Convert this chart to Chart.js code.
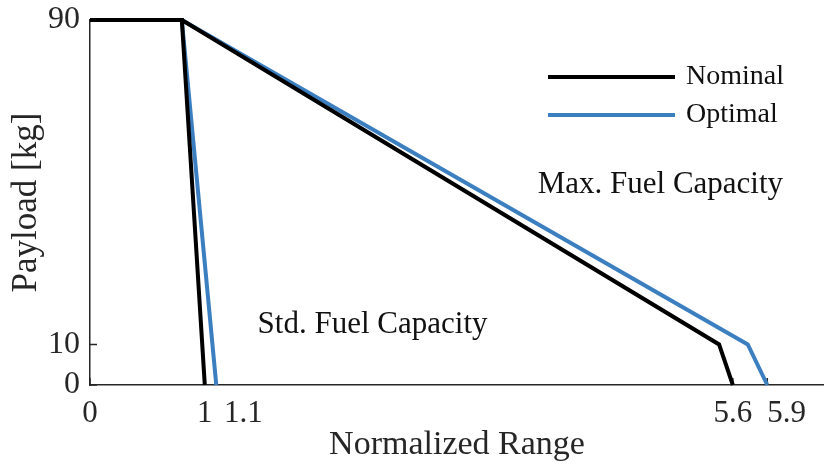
<!DOCTYPE html>
<html>
<head>
<meta charset="utf-8">
<script src="https://cdn.jsdelivr.net/npm/chart.js@4/dist/chart.umd.min.js"></script>
<style>
  html, body { margin: 0; padding: 0; background: #ffffff; }
  #wrap { width: 824px; height: 466px; }
</style>
</head>
<body>
<div id="wrap"><canvas id="c" width="824" height="466"></canvas></div>
<script>
// Payload-range curves (range normalized, payload in kg)
const nominalStd = [[0, 90], [0.8, 90], [1.0, 0]];
const nominalMax = [[0.8, 90], [5.48, 10], [5.6, 0]];
const optimalStd = [[0, 90], [0.8, 90], [1.1, 0]];
const optimalMax = [[0.8, 90], [5.73, 10], [5.9, 0]];

const seriesNames = ['Nominal', 'Optimal'];
const xTickValues = [0, 1, 1.1, 5.6, 5.9];
// leading spaces nudge the crowded labels to the right of their ticks
const xTickLabels = ['0', '1', '       1.1', '5.6', '     5.9'];
const yTickValues = [0, 10, 90];
const yTickLabels = ['0', '10', '90'];
const regionLabels = ['Max. Fuel Capacity', 'Std. Fuel Capacity'];

const SERIF = '"Liberation Serif", "Times New Roman", serif';
const INK = '#262626';
const BLACK = '#000000';
const BLUE = '#3b7fc0';

const toXY = arr => arr.map(p => ({ x: p[0], y: p[1] }));

function lineSet(label, data, color) {
  return {
    label: label,
    data: toXY(data),
    borderColor: color,
    backgroundColor: color,
    borderWidth: 4,
    pointRadius: 0,
    pointHoverRadius: 0,
    showLine: true,
    tension: 0,
    borderJoinStyle: 'miter',
    clip: false
  };
}

// Inward-pointing tick marks on both axes
const innerTicks = {
  id: 'innerTicks',
  beforeDatasetsDraw(chart) {
    const { ctx, chartArea, scales } = chart;
    ctx.save();
    ctx.strokeStyle = INK;
    ctx.lineWidth = 1.5;
    ctx.beginPath();
    xTickValues.forEach(v => {
      const px = scales.x.getPixelForValue(v);
      ctx.moveTo(px, chartArea.bottom);
      ctx.lineTo(px, chartArea.bottom - 7);
    });
    yTickValues.forEach(v => {
      const py = scales.y.getPixelForValue(v);
      ctx.moveTo(chartArea.left, py);
      ctx.lineTo(chartArea.left + 7, py);
    });
    ctx.stroke();
    ctx.restore();
  }
};

// Region captions and the in-plot legend
const overlay = {
  id: 'overlay',
  afterDatasetsDraw(chart) {
    const { ctx, scales } = chart;
    ctx.save();
    ctx.fillStyle = '#111111';
    ctx.textBaseline = 'middle';
    ctx.textAlign = 'left';
    ctx.font = '31px ' + SERIF;
    ctx.fillText(regionLabels[0], scales.x.getPixelForValue(3.9), scales.y.getPixelForValue(49.3));
    ctx.fillText(regionLabels[1], scales.x.getPixelForValue(1.46), scales.y.getPixelForValue(14.8));

    // legend
    const colors = [BLACK, BLUE];
    const rows = [77, 115];
    ctx.font = '28px ' + SERIF;
    seriesNames.forEach((name, i) => {
      ctx.strokeStyle = colors[i];
      ctx.lineWidth = 4;
      ctx.beginPath();
      ctx.moveTo(548, rows[i]);
      ctx.lineTo(675, rows[i]);
      ctx.stroke();
      ctx.fillText(name, 686, rows[i]);
    });
    ctx.restore();
  }
};

new Chart(document.getElementById('c'), {
  type: 'scatter',
  data: {
    datasets: [
      lineSet(seriesNames[0], nominalStd, BLACK),
      lineSet(seriesNames[0], nominalMax, BLACK),
      lineSet(seriesNames[1], optimalStd, BLUE),
      lineSet(seriesNames[1], optimalMax, BLUE)
    ]
  },
  options: {
    responsive: false,
    animation: false,
    events: [],
    layout: { padding: { top: 20, left: 0, right: 0, bottom: 0 } },
    plugins: {
      legend: { display: false },
      tooltip: { enabled: false }
    },
    scales: {
      x: {
        type: 'linear',
        min: 0,
        max: 6.394,
        afterBuildTicks(scale) {
          scale.ticks = xTickValues.map(v => ({ value: v }));
        },
        afterFit(scale) {
          scale.height = 81;
          scale.paddingLeft = 0;
          scale.paddingRight = 0;
        },
        grid: { display: false, drawTicks: false },
        border: { display: true, color: INK, width: 1.5 },
        ticks: {
          autoSkip: false,
          maxRotation: 0,
          padding: 10,
          color: INK,
          font: { family: SERIF, size: 31 },
          callback(value) {
            const i = xTickValues.indexOf(value);
            return i >= 0 ? xTickLabels[i] : '';
          }
        },
        title: {
          display: true,
          text: 'Normalized Range',
          color: INK,
          font: { family: SERIF, size: 34 },
          padding: { top: 0, bottom: 1 }
        }
      },
      y: {
        type: 'linear',
        min: 0,
        max: 90,
        afterBuildTicks(scale) {
          scale.ticks = yTickValues.map(v => ({ value: v }));
        },
        afterFit(scale) {
          scale.width = 90;
          scale.paddingTop = 0;
          scale.paddingBottom = 0;
        },
        grid: { display: false, drawTicks: false },
        border: { display: true, color: INK, width: 1.5 },
        ticks: {
          autoSkip: false,
          padding: 10,
          color: INK,
          font: { family: SERIF, size: 32 },
          callback(value) {
            const i = yTickValues.indexOf(value);
            return i >= 0 ? yTickLabels[i] : '';
          }
        },
        title: {
          display: true,
          text: 'Payload [kg]',
          color: INK,
          font: { family: SERIF, size: 35 },
          padding: { top: 6, bottom: 0 }
        }
      }
    }
  },
  plugins: [innerTicks, overlay]
});
</script>
</body>
</html>
